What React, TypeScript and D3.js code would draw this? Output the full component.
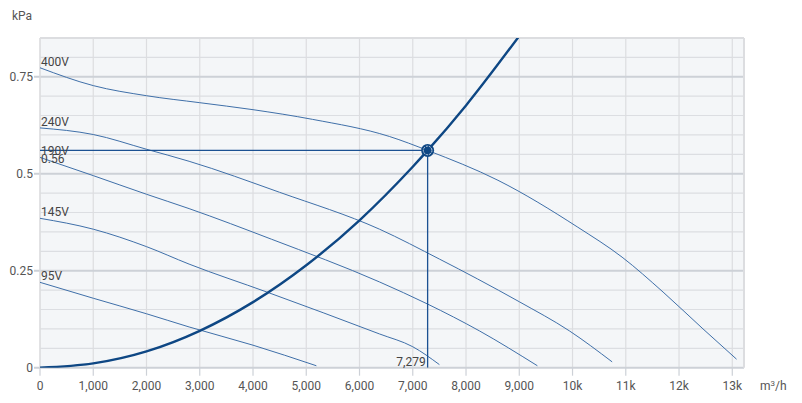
import React from 'react';
import * as d3 from 'd3';

// ---- data ----
const flowTicks = [0, 1000, 2000, 3000, 4000, 5000, 6000, 7000, 8000, 9000, 10000, 11000, 12000, 13000];
const flowTickLabels = ['0', '1,000', '2,000', '3,000', '4,000', '5,000', '6,000', '7,000', '8,000', '9,000', '10k', '11k', '12k', '13k'];
const pressureTicks = [0, 0.25, 0.5, 0.75];
const pressureTickLabels = ['0', '0.25', '0.5', '0.75'];
const pressureMinorTicks = [0.05, 0.1, 0.15, 0.2, 0.3, 0.35, 0.4, 0.45, 0.55, 0.6, 0.65, 0.7, 0.8, 0.85];

const curveNames = ['400V', '240V', '190V', '145V', '95V'];
const flow400 = [0, 1000, 2000, 3000, 4000, 5120, 6560, 7279, 8600, 10100, 10930, 11700, 12450, 13080];
const pres400 = [0.773, 0.727, 0.701, 0.683, 0.665, 0.64, 0.596, 0.56, 0.483, 0.362, 0.285, 0.195, 0.1, 0.022];
const flow240 = [0, 1000, 2000, 2800, 4500, 6375, 7500, 8213, 9000, 9940, 10744];
const pres240 = [0.618, 0.601, 0.563, 0.532, 0.452, 0.357, 0.28, 0.229, 0.17, 0.095, 0.015];
const flow190 = [0, 1000, 2000, 2800, 4350, 6375, 7279, 8250, 9340];
const pres190 = [0.542, 0.495, 0.447, 0.41, 0.331, 0.221, 0.164, 0.095, 0.005];
const flow145 = [0, 1000, 2000, 2800, 4260, 6375, 7000, 7500];
const pres145 = [0.385, 0.357, 0.312, 0.267, 0.195, 0.087, 0.054, 0.008];
const flow95 = [0, 1000, 2000, 2800, 4000, 5190];
const pres95 = [0.22, 0.179, 0.139, 0.105, 0.058, 0.005];

const systemFlow = [0, 1000, 2000, 3000, 4000, 5000, 6000, 7000, 7279, 8000, 9000];
const systemPres = [0, 0.011, 0.042, 0.095, 0.169, 0.264, 0.38, 0.518, 0.56, 0.676, 0.855];

const opFlow = 7279;
const opPres = 0.56;
const opFlowLabel = '7,279';
const opPresLabel = '0.56';

const fanFlows = [flow400, flow240, flow190, flow145, flow95];
const fanPres = [pres400, pres240, pres190, pres145, pres95];

// ---- layout ----
const W = 802;
const H = 403;
const left = 40;
const right = 744;
const top = 37.9;
const bottom = 367.7;

const FONT = 'Roboto, "Noto Sans", sans-serif';

export default function App() {
  const x = d3.scaleLinear().domain([0, 13220]).range([left, right]);
  const y = d3.scaleLinear().domain([0, 0.85]).range([bottom, top]);

  const line = d3
    .line<[number, number]>()
    .x((d) => x(d[0]))
    .y((d) => y(d[1]))
    .curve(d3.curveMonotoneX);

  const pairs = (fx: number[], py: number[]) => fx.map((f, i) => [f, py[i]] as [number, number]);

  return (
    <svg
      width={W}
      height={H}
      style={{ position: 'absolute', left: 0, top: 0, background: '#fff' }}
      fontFamily={FONT}
    >
      <defs>
        <clipPath id="plotClip">
          <rect x={left} y={top} width={right - left} height={bottom - top} />
        </clipPath>
      </defs>
      <rect x={left} y={top} width={right - left} height={bottom - top} fill="#f4f6f8" />

      {/* minor horizontal grid */}
      {pressureMinorTicks.map((t) => (
        <line key={'m' + t} x1={left} x2={right} y1={y(t)} y2={y(t)} stroke="#dcdee2" strokeWidth={1.2} />
      ))}
      {/* vertical grid */}
      {flowTicks.map((t) => (
        <line key={'v' + t} x1={x(t)} x2={x(t)} y1={top} y2={bottom} stroke="#dcdde0" strokeWidth={1.2} />
      ))}
      {/* major horizontal grid */}
      {pressureTicks.map((t) => (
        <line key={'M' + t} x1={left - 6} x2={right} y1={y(t)} y2={y(t)} stroke="#cdd1d7" strokeWidth={2} />
      ))}
      {/* border */}
      <line x1={left} x2={right} y1={top} y2={top} stroke="#dcdde0" strokeWidth={2} />
      <line x1={right} x2={right} y1={top} y2={bottom} stroke="#dcdde0" strokeWidth={2} />
      <line x1={left} x2={left} y1={top} y2={bottom} stroke="#dcdde0" strokeWidth={1.2} />

      {/* x ticks */}
      {flowTicks.map((t, i) => (
        <g key={'xt' + t}>
          <line x1={x(t)} x2={x(t)} y1={bottom} y2={bottom + 8} stroke="#cdd1d7" strokeWidth={1.2} />
          <text x={x(t)} y={bottom + 22} textAnchor="middle" fontSize={12} fill="#555">
            {flowTickLabels[i]}
          </text>
        </g>
      ))}
      {/* y tick labels */}
      {pressureTicks.map((t, i) => (
        <text key={'yt' + t} x={33} y={y(t) + 4} textAnchor="end" fontSize={12} fill="#555">
          {pressureTickLabels[i]}
        </text>
      ))}
      <text x={12} y={20} fontSize={12} fill="#555">kPa</text>
      <text x={760} y={bottom + 22} fontSize={12} fill="#555">
        m<tspan dy={-4} fontSize={8}>3</tspan>
        <tspan dy={4}>/h</tspan>
      </text>

      <g clipPath="url(#plotClip)">
        {fanFlows.map((fx, i) => (
          <path key={'c' + i} d={line(pairs(fx, fanPres[i])) || ''} fill="none" stroke="#3f6fa8" strokeWidth={1} />
        ))}
        <line x1={left} x2={x(opFlow)} y1={y(opPres)} y2={y(opPres)} stroke="#1b5192" strokeWidth={1.3} />
        <line x1={x(opFlow)} x2={x(opFlow)} y1={y(opPres)} y2={bottom} stroke="#1b5192" strokeWidth={1.3} />
        <path d={line(pairs(systemFlow, systemPres)) || ''} fill="none" stroke="#0e4784" strokeWidth={2.4} />
      </g>

      {/* fan curve labels */}
      {curveNames.map((n, i) => (
        <text key={'l' + n} x={41} y={y(fanPres[i][0]) - 2} fontSize={12} fill="#444">
          {n}
        </text>
      ))}
      <text x={41} y={y(opPres) + 13} fontSize={12} fill="#444">{opPresLabel}</text>
      <text x={x(opFlow) - 2} y={bottom - 2} textAnchor="end" fontSize={12} fill="#444">{opFlowLabel}</text>

      {/* operating point */}
      <circle cx={x(opFlow)} cy={y(opPres)} r={6.5} fill="#0e4784" />
      <circle cx={x(opFlow)} cy={y(opPres)} r={4.3} fill="#0e4784" stroke="#c9d6e6" strokeWidth={1} strokeDasharray="2 1" />
    </svg>
  );
}
